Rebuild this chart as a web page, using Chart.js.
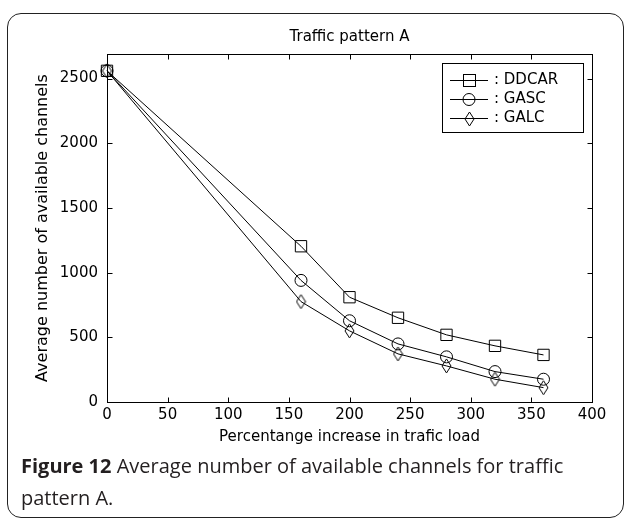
<!DOCTYPE html>
<html lang="en">
<head>
    <meta charset="UTF-8">
    <title>Traffic pattern A</title>
    <script src="https://cdn.jsdelivr.net/npm/chart.js@4.4.1/dist/chart.umd.min.js"></script>
    <style>
        html, body { margin: 0; padding: 0; background: #fff; }
        #wrap { position: relative; width: 627px; height: 519px; overflow: hidden; }
        #frame {
            position: absolute; left: 7px; top: 13px; width: 617px; height: 505px;
            box-sizing: border-box; border: 1.5px solid #222; border-radius: 14px;
        }
        #myChart { position: absolute; left: 0; top: 0; }
        #caption {
            position: absolute; left: 21px; top: 450px;
            font-family: 'Open Sans', sans-serif; font-size: 20px; line-height: 32px;
            color: #231f20; white-space: nowrap;
        }
    </style>
</head>
<body>
<div id="wrap">
    <div id="frame"></div>
    <canvas id="myChart" width="627" height="519"></canvas>
    <div id="caption"><b>Figure 12</b> Average number of available channels for traffic<br>pattern A.</div>
</div>

<script>
    // percentage increase in traffic load
    const loadIncrease = [0, 160, 200, 240, 280, 320, 360];
    // average number of available channels
    const ddcar = [2560, 1204, 810, 651, 519, 434, 364];
    const gasc = [2560, 940, 628, 449, 349, 235, 176];
    const galc = [2560, 776, 550, 372, 279, 176, 111];

    const xTicks = [0, 50, 100, 150, 200, 250, 300, 350, 400];
    const yTicks = [0, 500, 1000, 1500, 2000, 2500];

    const FONT = { family: "'DejaVu Sans', sans-serif", size: 15 };

    // tall thin diamond like the one in the original figure
    function diamondMarker(w, h) {
        let c = document.createElement('canvas');
        c.width = w + 2;
        c.height = h + 2;
        let g = c.getContext('2d');
        g.strokeStyle = '#000';
        g.lineWidth = 1;
        g.beginPath();
        g.moveTo(c.width / 2, 1);
        g.lineTo(c.width - 1, c.height / 2);
        g.lineTo(c.width / 2, c.height - 1);
        g.lineTo(1, c.height / 2);
        g.closePath();
        g.stroke();
        return c;
    }
    const diamond = diamondMarker(9, 14);

    function toPoints(values) {
        return values.map((v, i) => ({ x: loadIncrease[i], y: v }));
    }

    function series(label, values, pointStyle, radius) {
        return {
            label: label,
            data: toPoints(values),
            borderColor: '#000',
            borderWidth: 1,
            pointStyle: pointStyle,
            pointRadius: radius,
            pointBorderColor: '#000',
            pointBorderWidth: 1,
            pointBackgroundColor: 'rgba(0,0,0,0)',
            tension: 0,
            clip: false
        };
    }

    // matlab style box with inward ticks on every side
    const axesBox = {
        id: 'axesBox',
        beforeDatasetsDraw(chart) {
            const { ctx, chartArea: a, scales: { x, y } } = chart;
            let l = Math.round(a.left) + 0.5, r = Math.round(a.right) + 0.5;
            let t = Math.round(a.top) + 0.5, b = Math.round(a.bottom) + 0.5;
            ctx.save();
            ctx.strokeStyle = '#000';
            ctx.lineWidth = 1;
            ctx.strokeRect(l, t, r - l, b - t);
            ctx.beginPath();
            x.ticks.forEach(tick => {
                let px = Math.round(x.getPixelForValue(tick.value)) + 0.5;
                ctx.moveTo(px, b); ctx.lineTo(px, b - 5);
                ctx.moveTo(px, t); ctx.lineTo(px, t + 5);
            });
            y.ticks.forEach(tick => {
                let py = Math.round(y.getPixelForValue(tick.value)) + 0.5;
                ctx.moveTo(l, py); ctx.lineTo(l + 5, py);
                ctx.moveTo(r, py); ctx.lineTo(r - 5, py);
            });
            ctx.stroke();
            ctx.restore();
        }
    };

    // boxed legend with line + marker samples
    const boxLegend = {
        id: 'boxLegend',
        afterDatasetsDraw(chart, args, opts) {
            const ctx = chart.ctx;
            ctx.save();
            ctx.fillStyle = '#fff';
            ctx.fillRect(opts.left, opts.top, opts.width, opts.height);
            ctx.strokeStyle = '#000';
            ctx.lineWidth = 1;
            ctx.strokeRect(opts.left + 0.5, opts.top + 0.5, opts.width, opts.height);
            ctx.font = FONT.size + 'px ' + FONT.family;
            ctx.fillStyle = '#000';
            ctx.textBaseline = 'middle';
            chart.data.datasets.forEach((ds, i) => {
                let cy = Math.round(opts.top + opts.firstRow + i * opts.rowHeight) + 0.5;
                let x0 = opts.left + 8, x1 = opts.left + 46, cx = (x0 + x1) / 2;
                ctx.beginPath();
                ctx.moveTo(x0, cy);
                ctx.lineTo(x1, cy);
                ctx.stroke();
                let st = ds.pointStyle, rad = ds.pointRadius;
                ctx.beginPath();
                if (st === 'rect') {
                    let s = Math.round(rad * Math.SQRT1_2);
                    ctx.strokeRect(Math.round(cx) - s + 0.5, cy - s, 2 * s, 2 * s);
                } else if (st === 'circle') {
                    ctx.arc(cx, cy, rad, 0, Math.PI * 2);
                    ctx.stroke();
                } else {
                    ctx.drawImage(st, Math.round(cx - st.width / 2), Math.round(cy - st.height / 2));
                }
                ctx.fillText(': ' + ds.label, opts.left + 52, cy);
            });
            ctx.restore();
        }
    };

    new Chart(document.getElementById('myChart'), {
        type: 'line',
        data: {
            datasets: [
                series('DDCAR', ddcar, 'rect', 8),
                series('GASC', gasc, 'circle', 6),
                series('GALC', galc, diamond, 6)
            ]
        },
        plugins: [axesBox, boxLegend],
        options: {
            responsive: false,
            animation: false,
            events: [],
            layout: { padding: { left: 30, right: 35, top: 0, bottom: 72 } },
            scales: {
                x: {
                    type: 'linear',
                    min: 0,
                    max: 400,
                    afterBuildTicks: s => { s.ticks = xTicks.map(v => ({ value: v })); },
                    afterFit: s => { s.height = 45; },
                    grid: { display: false, drawTicks: false },
                    border: { display: false },
                    ticks: { font: FONT, color: '#000', padding: 4, maxRotation: 0, callback: v => String(v) },
                    title: {
                        display: true,
                        text: 'Percentange increase in trafic load',
                        font: FONT,
                        color: '#000',
                        padding: { top: 0, bottom: 1 }
                    }
                },
                y: {
                    type: 'linear',
                    min: 0,
                    max: 2690,
                    afterBuildTicks: s => { s.ticks = yTicks.map(v => ({ value: v })); },
                    afterFit: s => { s.width = 77; },
                    grid: { display: false, drawTicks: false },
                    border: { display: false },
                    ticks: { font: FONT, color: '#000', padding: 9, callback: v => String(v) },
                    title: {
                        display: true,
                        text: 'Average number of available channels',
                        font: { family: FONT.family, size: 16 },
                        color: '#000',
                        padding: { top: 3, bottom: 0 }
                    }
                }
            },
            plugins: {
                legend: { display: false },
                tooltip: { enabled: false },
                title: {
                    display: true,
                    text: 'Traffic pattern A',
                    fullSize: false,
                    font: { family: FONT.family, size: 15, weight: 'normal' },
                    color: '#000',
                    padding: { top: 28, bottom: 8 }
                },
                boxLegend: { left: 442, top: 63, width: 141, height: 69, firstRow: 17, rowHeight: 19 }
            }
        }
    });
</script>
</body>
</html>
